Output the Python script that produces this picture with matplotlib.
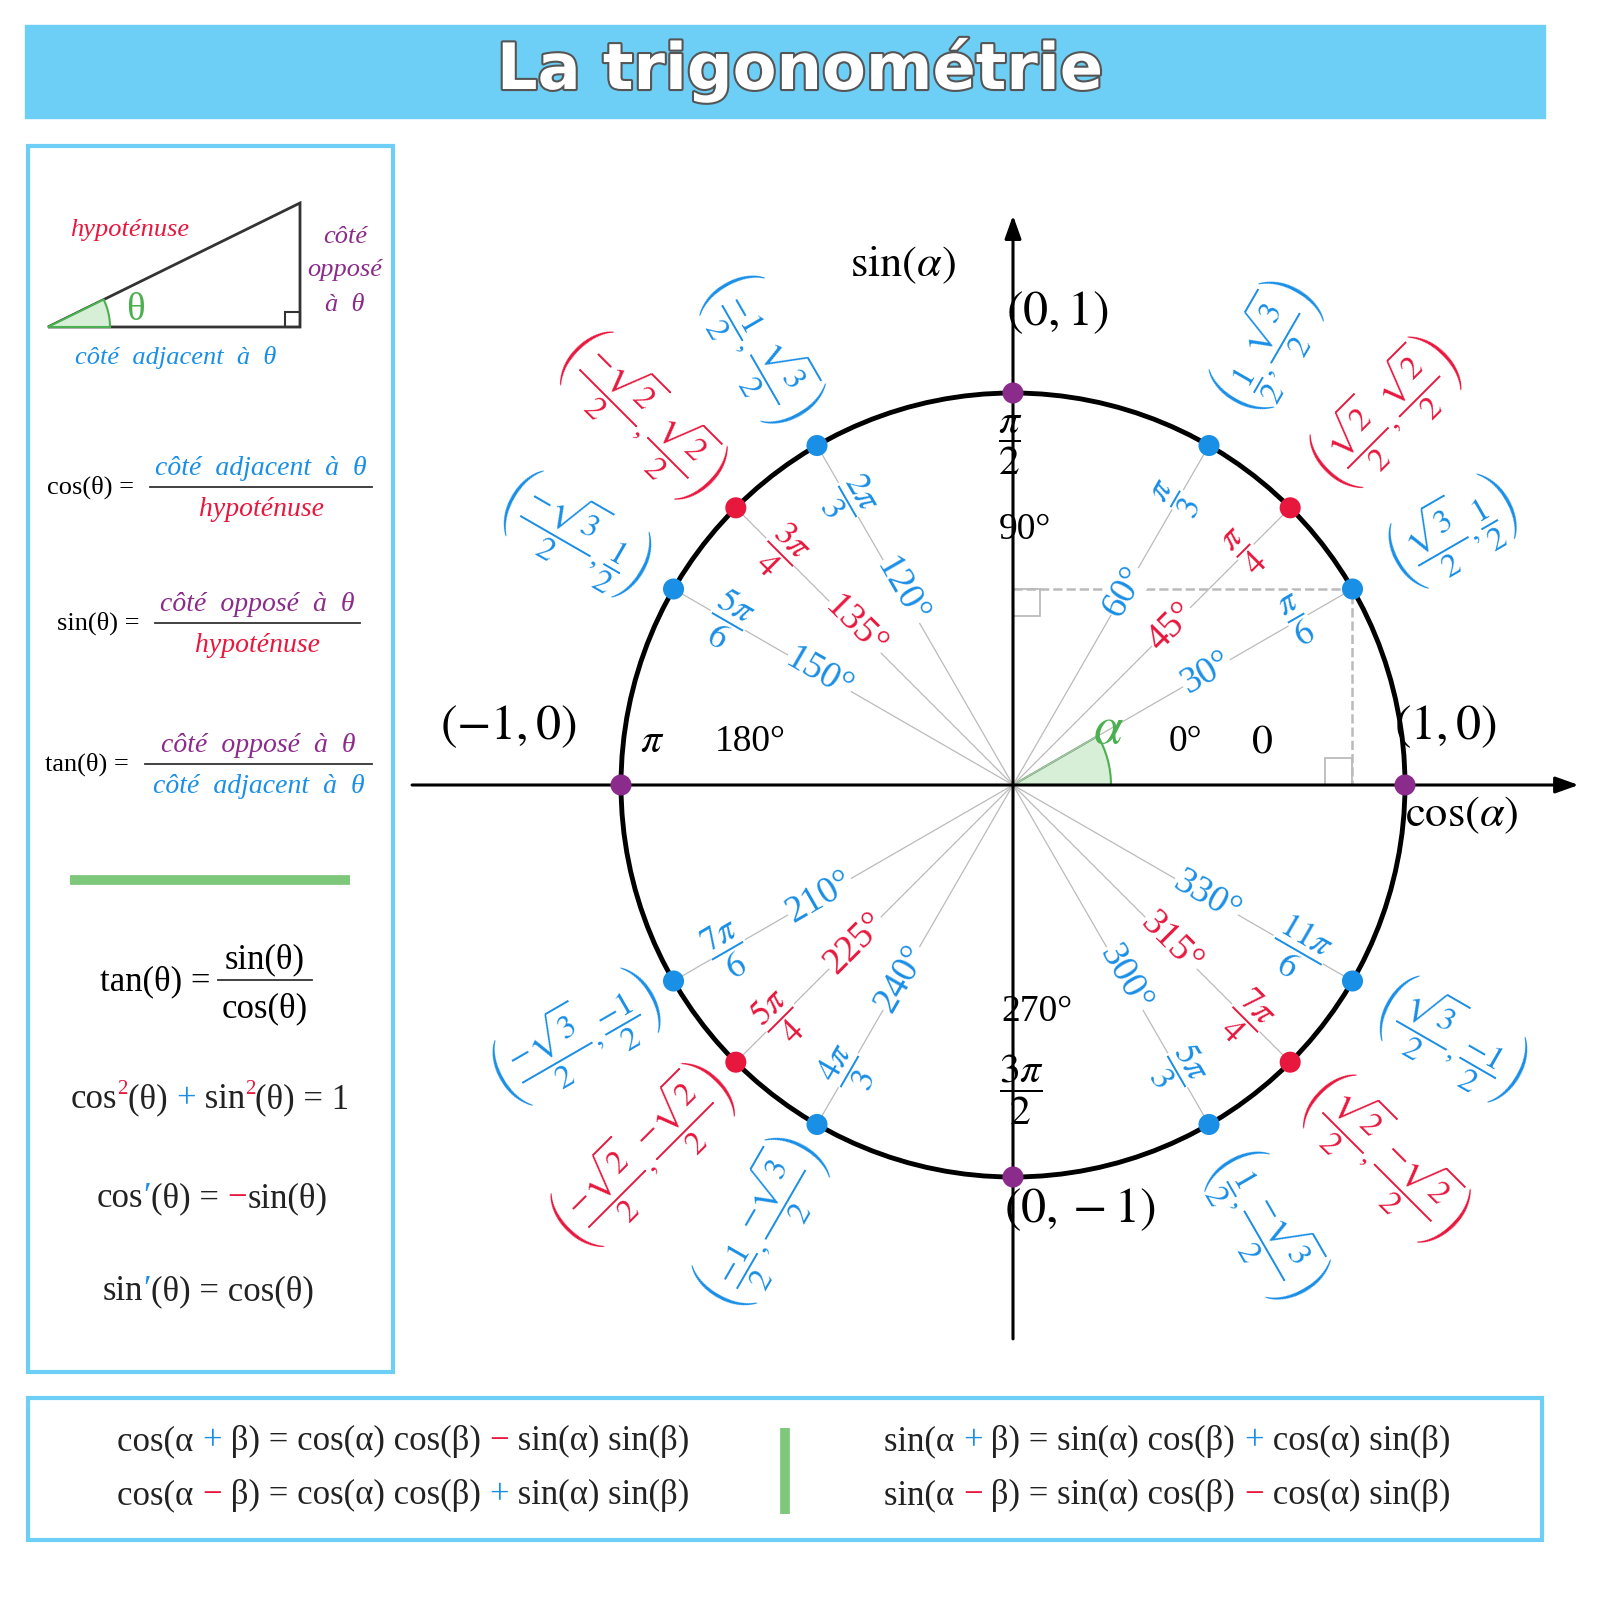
import numpy as np
import matplotlib
matplotlib.use("Agg")
import matplotlib.pyplot as plt
import matplotlib.patheffects as pe
from matplotlib.patches import Rectangle, Circle, Wedge, Polygon

plt.rcParams['mathtext.fontset'] = 'stix'
plt.rcParams['font.family'] = ['Liberation Serif', 'DejaVu Serif']

BLUE = '#1a8fe6'; RED = '#e8173d'; PURPLE = '#8b2b8b'; GREEN = '#4caf50'
BOX = '#6dcff6'; GRAYL = '#bbbbbb'

# ---------------- data ----------------
angles_deg = [0, 30, 45, 60, 90, 120, 135, 150, 180, 210, 225, 240, 270, 300, 315, 330]
point_colors = ['p', 'b', 'r', 'b', 'p', 'b', 'r', 'b', 'p', 'b', 'r', 'b', 'p', 'b', 'r', 'b']
coord_labels = {
    30: r'$\left(\dfrac{\sqrt{3}}{2},\dfrac{1}{2}\right)$',
    45: r'$\left(\dfrac{\sqrt{2}}{2},\dfrac{\sqrt{2}}{2}\right)$',
    60: r'$\left(\dfrac{1}{2},\dfrac{\sqrt{3}}{2}\right)$',
    120: r'$\left(\dfrac{-1}{2},\dfrac{\sqrt{3}}{2}\right)$',
    135: r'$\left(\dfrac{-\sqrt{2}}{2},\dfrac{\sqrt{2}}{2}\right)$',
    150: r'$\left(\dfrac{-\sqrt{3}}{2},\dfrac{1}{2}\right)$',
    210: r'$\left(\dfrac{-\sqrt{3}}{2},\dfrac{-1}{2}\right)$',
    225: r'$\left(\dfrac{-\sqrt{2}}{2},\dfrac{-\sqrt{2}}{2}\right)$',
    240: r'$\left(\dfrac{-1}{2},\dfrac{-\sqrt{3}}{2}\right)$',
    300: r'$\left(\dfrac{1}{2},\dfrac{-\sqrt{3}}{2}\right)$',
    315: r'$\left(\dfrac{\sqrt{2}}{2},\dfrac{-\sqrt{2}}{2}\right)$',
    330: r'$\left(\dfrac{\sqrt{3}}{2},\dfrac{-1}{2}\right)$',
}
radian_labels = {30: r'$\dfrac{\pi}{6}$', 45: r'$\dfrac{\pi}{4}$', 60: r'$\dfrac{\pi}{3}$',
                 120: r'$\dfrac{2\pi}{3}$', 135: r'$\dfrac{3\pi}{4}$', 150: r'$\dfrac{5\pi}{6}$',
                 210: r'$\dfrac{7\pi}{6}$', 225: r'$\dfrac{5\pi}{4}$', 240: r'$\dfrac{4\pi}{3}$',
                 300: r'$\dfrac{5\pi}{3}$', 315: r'$\dfrac{7\pi}{4}$', 330: r'$\dfrac{11\pi}{6}$'}
axis_coord_labels = [(0, '$(1,0)$'), (90, '$(0,1)$'), (180, '$(-1,0)$'), (270, '$(0,-1)$')]
axis_rad_labels = [(0, '$0$'), (90, r'$\dfrac{\pi}{2}$'), (180, r'$\pi$'), (270, r'$\dfrac{3\pi}{2}$')]

cmap = {'p': PURPLE, 'b': BLUE, 'r': RED}

fig = plt.figure(figsize=(16, 16), dpi=100)
bg = fig.add_axes([0, 0, 1, 1])
bg.set_xlim(0, 1600); bg.set_ylim(1600, 0); bg.axis('off')

# ---------------- title ----------------
bg.add_patch(Rectangle((25, 25), 1520, 93, color=BOX, zorder=0))
bg.text(800, 70, 'La trigonométrie', family='DejaVu Sans', weight='bold', fontsize=46,
        color='white', ha='center', va='center',
        path_effects=[pe.withStroke(linewidth=3, foreground='#555555')])

# ---------------- boxes ----------------
bg.add_patch(Rectangle((28, 146), 365, 1226, fill=False, ec=BOX, lw=3))
bg.add_patch(Rectangle((28, 1398), 1514, 142, fill=False, ec=BOX, lw=3))

renderer = fig.canvas.get_renderer()

def ctext(x, y, parts, size, ha='center'):
    widths = []
    for s, c, sz in parts:
        t = bg.text(0, 0, s, fontsize=size * sz)
        widths.append(t.get_window_extent(renderer).width)
        t.remove()
    total = sum(widths)
    cx = x - total / 2 if ha == 'center' else (x - total if ha == 'right' else x)
    for (s, c, sz), w in zip(parts, widths):
        dy = -size * 0.55 if sz < 1 else 0
        bg.text(cx, y + dy, s, color=c, fontsize=size * sz, va='baseline')
        cx += w

# triangle
bg.add_patch(Polygon([(48, 327), (300, 327), (300, 203)], closed=True, fill=False, ec='#333333', lw=2))
bg.add_patch(Rectangle((285, 312), 15, 15, fill=False, ec='#333333', lw=1.5))
th = np.degrees(np.arctan2(124, 252))
a = np.radians(np.linspace(0, th, 30))
wpts = [(48, 327)] + [(48 + 62 * np.cos(t), 327 - 62 * np.sin(t)) for t in a]
bg.add_patch(Polygon(wpts, closed=True, fc='#d6efd6', ec=GREEN, lw=1.5))
bg.text(130, 236, 'hypoténuse', color=RED, style='italic', fontsize=19, ha='center')
for yy, s in [(243, 'côté'), (276, 'opposé'), (311, 'à  θ')]:
    bg.text(345, yy, s, color=PURPLE, style='italic', fontsize=19, ha='center')
bg.text(135, 320, 'θ', color=GREEN, fontsize=28, ha='center')
bg.text(176, 364, 'côté  adjacent  à  θ', color=BLUE, style='italic', fontsize=19, ha='center')

def frac(lx, y, lhs, num, nc, den, dc, x0, x1):
    bg.text(lx, y + 7, lhs, fontsize=19, va='baseline')
    xc = (x0 + x1) / 2
    bg.text(xc, y - 12, num, color=nc, style='italic', fontsize=20, ha='center', va='baseline')
    bg.text(xc, y + 29, den, color=dc, style='italic', fontsize=20, ha='center', va='baseline')
    bg.plot([x0, x1], [y, y], color='#333333', lw=1.3)

frac(47, 487, 'cos(θ) =', 'côté  adjacent  à  θ', BLUE, 'hypoténuse', RED, 150, 372)
frac(57, 623, 'sin(θ) =', 'côté  opposé  à  θ', PURPLE, 'hypoténuse', RED, 155, 360)
frac(45, 764, 'tan(θ) =', 'côté  opposé  à  θ', PURPLE, 'côté  adjacent  à  θ', BLUE, 145, 372)
bg.plot([70, 350], [880, 880], color='#7dc87b', lw=7, solid_capstyle='butt')

bg.text(100, 990, 'tan(θ) =', fontsize=25, va='baseline')
bg.text(265, 968, 'sin(θ)', fontsize=25, ha='center', va='baseline')
bg.text(265, 1017, 'cos(θ)', fontsize=25, ha='center', va='baseline')
bg.plot([218, 312], [980, 980], color='#333333', lw=1.3)
K = '#222222'
ctext(210, 1108, [('cos', K, 1), ('2', RED, 0.6), ('(θ) ', K, 1), ('+', BLUE, 1), (' sin', K, 1),
                  ('2', RED, 0.6), ('(θ) = 1', K, 1)], 25)
ctext(212, 1207, [('cos', K, 1), ('′', BLUE, 1), ('(θ) = ', K, 1), ('−', RED, 1), ('sin(θ)', K, 1)], 25)
ctext(208, 1300, [('sin', K, 1), ('′', BLUE, 1), ('(θ) = cos(θ)', K, 1)], 25)

# bottom formulas
ctext(403, 1450, [('cos(α ', K, 1), ('+', BLUE, 1), (' β) = cos(α) cos(β) ', K, 1), ('−', RED, 1), (' sin(α) sin(β)', K, 1)], 25)
ctext(403, 1504, [('cos(α ', K, 1), ('−', RED, 1), (' β) = cos(α) cos(β) ', K, 1), ('+', BLUE, 1), (' sin(α) sin(β)', K, 1)], 25)
ctext(1167, 1450, [('sin(α ', K, 1), ('+', BLUE, 1), (' β) = sin(α) cos(β) ', K, 1), ('+', BLUE, 1), (' cos(α) sin(β)', K, 1)], 25)
ctext(1167, 1504, [('sin(α ', K, 1), ('−', RED, 1), (' β) = sin(α) cos(β) ', K, 1), ('−', RED, 1), (' cos(α) sin(β)', K, 1)], 25)
bg.plot([785, 785], [1428, 1514], color='#7dc87b', lw=7, solid_capstyle='butt')

# ---------------- unit circle ----------------
R = 392.0; CX, CY = 1013, 785
L, Rr, T, B = 400, 1590, 200, 1400
ax = fig.add_axes([L / 1600, (1600 - B) / 1600, (Rr - L) / 1600, (B - T) / 1600])
ax.set_xlim((L - CX) / R, (Rr - CX) / R); ax.set_ylim((CY - B) / R, (CY - T) / R)
ax.axis('off'); ax.patch.set_alpha(0)

ax.add_patch(Wedge((0, 0), 0.25, 0, 30, fc='#d6efd6', ec=GREEN, lw=1.5, zorder=1))
for d in angles_deg:
    if d % 90:
        r = np.radians(d)
        ax.plot([0, np.cos(r)], [0, np.sin(r)], color=GRAYL, lw=0.9, zorder=1)
ax.add_patch(Circle((0, 0), 1, fill=False, ec='black', lw=3.5, zorder=2))
ax.annotate('', xy=(1.45, 0), xytext=(-1.54, 0),
            arrowprops=dict(arrowstyle='-|>,head_length=1.4,head_width=0.5', color='black', lw=2.2))
ax.annotate('', xy=(0, 1.46), xytext=(0, -1.42),
            arrowprops=dict(arrowstyle='-|>,head_length=1.4,head_width=0.5', color='black', lw=2.2))
c30, s30 = np.cos(np.radians(30)), np.sin(np.radians(30))
ax.plot([0, c30, c30], [s30, s30, 0], ls='--', color=GRAYL, lw=1.8, zorder=1)
ax.add_patch(Rectangle((0, s30 - 0.07), 0.07, 0.07, fill=False, ec=GRAYL, lw=1.3))
ax.add_patch(Rectangle((c30 - 0.07, 0), 0.07, 0.07, fill=False, ec=GRAYL, lw=1.3))

for d, c in zip(angles_deg, point_colors):
    r = np.radians(d)
    ax.scatter(np.cos(r), np.sin(r), s=230, color=cmap[c], zorder=5, edgecolors='none')
    if d % 90 == 0:
        continue
    col = RED if d % 45 == 0 and d % 90 else BLUE
    rot = d if d <= 90 else (d - 180 if d < 270 else d - 360)
    rc = 1.34 if col == RED else 1.29
    ax.text(rc * np.cos(r), rc * np.sin(r), coord_labels[d], color=col, fontsize=24,
            rotation=rot, ha='center', va='center', rotation_mode='anchor')
    ax.text(0.84 * np.cos(r), 0.84 * np.sin(r), radian_labels[d], color=col, fontsize=25,
            rotation=rot, ha='center', va='center', rotation_mode='anchor',
            bbox=dict(fc='white', ec='none', pad=0.5))
    ax.text(0.57 * np.cos(r), 0.57 * np.sin(r), f'{d}°', color=col, fontsize=27,
            rotation=rot, ha='center', va='center', rotation_mode='anchor',
            bbox=dict(fc='white', ec='none', pad=0.5))

def P(px, py):
    return ((px - CX) / R, (CY - py) / R)

coord_pos = {0: P(1445, 727), 90: P(1057, 313), 180: P(508, 727), 270: P(1080, 1210)}
for d, s in axis_coord_labels:
    ax.text(*coord_pos[d], s, fontsize=36, ha='center', va='center')
rad_pos = {0: P(1262, 742), 90: P(1010, 445), 180: P(652, 742), 270: P(1022, 1090)}
for d, s in axis_rad_labels:
    ax.text(*rad_pos[d], s, fontsize=30, ha='center', va='center')
deg_pos = {0: P(1185, 742), 90: P(1025, 530), 180: P(750, 742), 270: P(1037, 1012)}
for d in [0, 90, 180, 270]:
    ax.text(*deg_pos[d], f'{d}°', fontsize=27, ha='center', va='center')
ax.text(*P(903, 265), r'$\sin(\alpha)$', fontsize=32, ha='center', va='center')
ax.text(*P(1462, 815), r'$\cos(\alpha)$', fontsize=32, ha='center', va='center')
ax.text(*P(1108, 730), r'$\alpha$', fontsize=38, color=GREEN, ha='center', va='center')

fig.savefig('out.png', dpi=100)
